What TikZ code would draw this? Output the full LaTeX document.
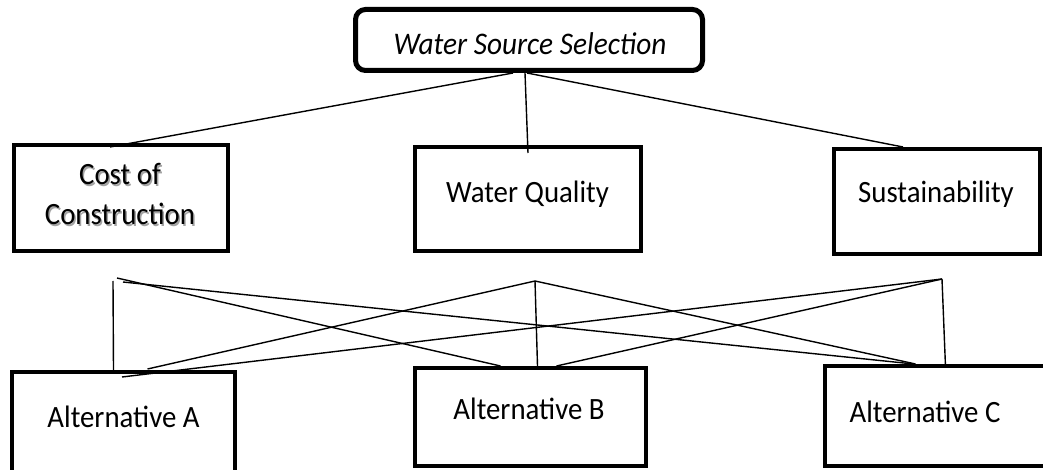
\documentclass[tikz,border=0pt]{standalone}
\usepackage{fontspec}
\setmainfont{Carlito}
\usetikzlibrary{calc}
% narrow the glyphs a little
\newcommand{\narrow}[1]{\scalebox{0.93}[1]{#1}}
\begin{document}
\begin{tikzpicture}[x=1bp,y=-1bp,
  box/.style={draw, line width=4bp, inner sep=0pt},
  goalbox/.style={draw, line width=5bp, rounded corners=10bp, inner sep=0pt},
  lbl/.style={anchor=base, inner sep=0pt, font=\fontsize{31bp}{40bp}\selectfont},
  link/.style={line width=1.4bp},
]
\useasboundingbox (0,0) rectangle (1043,470);
\clip (0,0) rectangle (1043,470);

% goal
\node[goalbox, minimum width=347bp, minimum height=61bp] (goal) at (529,40) {};
\node[lbl, font=\fontsize{31.5bp}{40bp}\selectfont\itshape] (goaltxt) at (530,55) {\narrow{Water Source Selection}};

% criteria
\node[box, minimum width=214bp, minimum height=106bp] (cost) at (121,198) {};
\node[box, minimum width=226bp, minimum height=104bp] (wq) at (528,199) {};
\node[box, minimum width=206bp, minimum height=105bp] (sus) at (937,201.5) {};

\node[lbl, text=black!45, opacity=0.8] (costsh1) at (121.5,186.5) {\narrow{Cost of}};
\node[lbl, text=black!45, opacity=0.8] (costsh2) at (121.5,226.5) {\narrow{Construction}};
\node[lbl] (costtxt1) at (120,185) {\narrow{Cost of}};
\node[lbl] (costtxt2) at (120,225) {\narrow{Construction}};
\node[lbl] (wqtxt) at (527.5,203) {\narrow{Water Quality}};
\node[lbl] (sustxt) at (936,203) {\narrow{Sustainability}};

% alternatives
\node[box, minimum width=223bp, minimum height=108bp] (altA) at (123.5,426) {};
\node[box, minimum width=231bp, minimum height=98bp] (altB) at (530.5,417) {};
\node[box, minimum width=225bp, minimum height=100bp] (altC) at (937.5,416) {};

\node[lbl] (altAtxt) at (123.5,427) {\narrow{Alternative A}};
\node[lbl] (altBtxt) at (529,419) {\narrow{Alternative B}};
\node[lbl] (altCtxt) at (925,422) {\narrow{Alternative C}};

% goal to criteria
\draw[link] ($(goal.south)+(-16,0)$) -- ($(cost.north)+(-11,4)$);
\draw[link] ($(goal.south)+(-4,0)$) -- ($(wq.north)+(0,8)$);
\draw[link] ($(goal.south)+(-2,0)$) -- ($(sus.north)+(-34,0)$);

% junction points below the criteria
\coordinate (hA) at ($(cost.south)+(-4,26)$);
\coordinate (hB) at ($(wq.south)+(7,28)$);
\coordinate (hC) at ($(sus.south)+(5,23)$);

% criteria to alternatives
\draw[link] ($(hA)+(-4,2)$) -- ($(altA.north)+(-10,0)$);
\draw[link] ($(hA)+(0,-1)$) -- ($(altB.north)+(-30,0)$);
\draw[link] ($(hA)+(6,3)$) -- ($(altC.north)+(-24,0)$);

\draw[link] (hB) -- ($(altA.north)+(24,-1)$);
\draw[link] (hB) -- ($(altB.north)+(7,0)$);
\draw[link] (hB) -- ($(altC.north)+(-22,0)$);

\draw[link] (hC) -- ($(altA.north)+(-1.5,7)$);
\draw[link] (hC) -- ($(altB.north)+(26,0)$);
\draw[link] (hC) -- ($(altC.north)+(8,3)$);
\end{tikzpicture}
\end{document}
